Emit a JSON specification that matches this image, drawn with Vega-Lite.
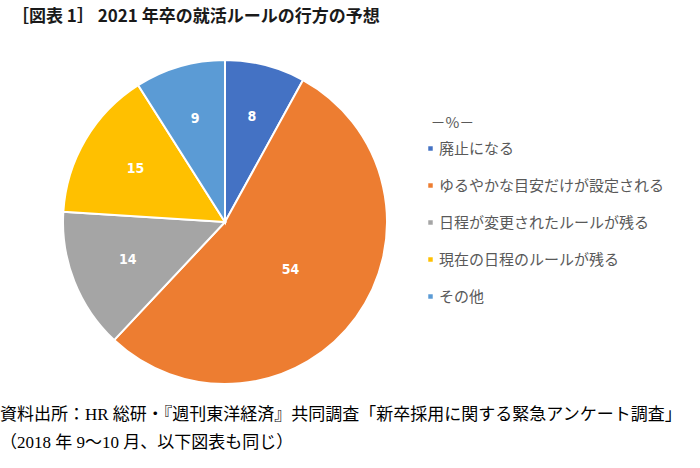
{
  "$schema": "https://vega.github.io/schema/vega-lite/v6.json",
  "background": "white",
  "padding": {"left": 0, "top": 8, "right": 5, "bottom": 5},
  "title": {
    "text": "［図表 1］ 2021 年卒の就活ルールの行方の予想",
    "anchor": "start",
    "frame": "bounds",
    "font": "Noto Sans CJK JP",
    "fontSize": 17,
    "fontWeight": "bold",
    "color": "#1a1a1a",
    "offset": 30,
    "dx": 12
  },
  "datasets": {
    "pie": [
      {"category": "廃止になる", "value": 8},
      {"category": "ゆるやかな目安だけが設定される", "value": 54},
      {"category": "日程が変更されたルールが残る", "value": 14},
      {"category": "現在の日程のルールが残る", "value": 15},
      {"category": "その他", "value": 9}
    ]
  },
  "vconcat": [
    {
      "width": 324,
      "height": 324,
      "title": {
        "text": [
          "資料出所：HR 総研・『週刊東洋経済』共同調査「新卒採用に関する緊急アンケート調査」",
          "（2018 年 9～10 月、以下図表も同じ）"
        ],
        "orient": "bottom",
        "anchor": "start",
        "frame": "group",
        "dx": -63,
        "offset": 19,
        "font": "Liberation Serif, Noto Sans CJK JP",
        "fontSize": 17,
        "fontWeight": "normal",
        "lineHeight": 28,
        "color": "#000000"
      },
      "data": {"name": "pie"},
      "transform": [{"window": [{"op": "row_number", "as": "idx"}]}],
      "encoding": {
        "theta": {"field": "value", "type": "quantitative", "stack": true},
        "order": {"field": "idx", "type": "quantitative"}
      },
      "layer": [
        {
          "mark": {"type": "arc", "stroke": "white", "strokeWidth": 2},
          "encoding": {
            "color": {
              "field": "category",
              "type": "nominal",
              "scale": {
                "domain": ["廃止になる", "ゆるやかな目安だけが設定される", "日程が変更されたルールが残る", "現在の日程のルールが残る", "その他"],
                "range": ["#4472C4", "#ED7D31", "#A5A5A5", "#FFC000", "#5B9BD5"]
              },
              "legend": {
                "title": "\u200b\u2002－%－",
                "orient": "none",
                "legendX": 360,
                "legendY": 56,
                "padding": 0,
                "titleFont": "Noto Sans CJK JP",
                "titleFontSize": 15,
                "titleFontWeight": "normal",
                "titleColor": "#595959",
                "titlePadding": 10,
                "labelFont": "Noto Sans CJK JP",
                "labelFontSize": 15,
                "labelColor": "#595959",
                "labelOffset": 1,
                "symbolType": "square",
                "symbolSize": 20,
                "symbolStrokeWidth": 0,
                "rowPadding": 21,
                "labelLimit": 400
              }
            }
          }
        },
        {
          "mark": {"type": "text", "color": "white", "font": "Liberation Sans Narrow, DejaVu Sans Condensed, Liberation Sans", "fontSize": 14, "fontWeight": "bold"},
          "encoding": {
            "text": {"field": "value", "type": "quantitative"},
            "radius": {"field": "value", "type": "quantitative", "scale": {"type": "linear", "domain": [8, 54], "range": [108, 81], "zero": false}}
          }
        }
      ]
    }
  ],
  "config": {"view": {"stroke": null}}
}
